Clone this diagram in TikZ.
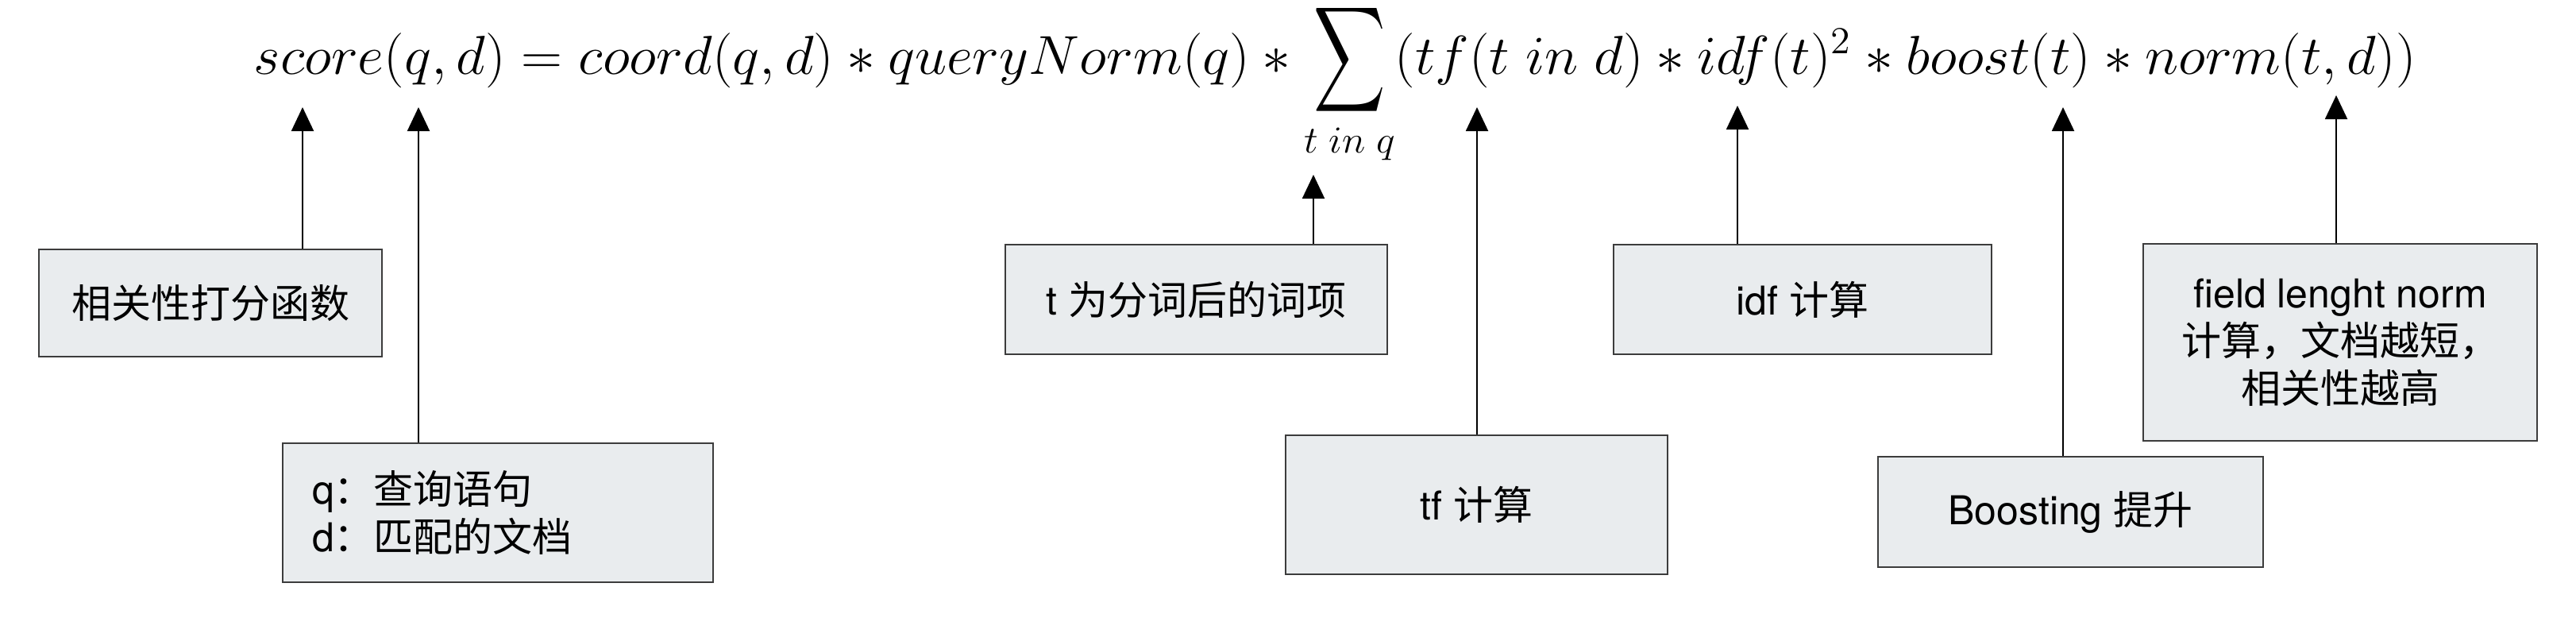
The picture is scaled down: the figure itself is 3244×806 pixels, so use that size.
\documentclass[tikz,border=0pt]{standalone}
\usepackage{exscale}
\usepackage[no-math]{fontspec}
\setmainfont{TeX Gyre Heros}
\newfontfamily\cjk{Noto Sans CJK SC}
\usetikzlibrary{arrows.meta}
\definecolor{notefill}{HTML}{E9ECEE}
\definecolor{noteline}{HTML}{3C3C3C}
\newcommand{\bigsum}{\mathop{\vcenter{\hbox{\scalebox{0.87}[1.34]{$\displaystyle\sum$}}}}\limits}
\tikzset{
  notebox/.style={draw=noteline, line width=0.7pt, fill=notefill, inner sep=0pt,
    align=center, font=\fontsize{12.5}{15}\selectfont},
  pointer/.style={-{Triangle[length=7.5pt,width=7pt]}, line width=0.5pt},
}
\begin{document}
\begin{tikzpicture}[x=0.25pt,y=-0.25pt]
  \useasboundingbox (0,0) rectangle (3244,806);
  % the scoring formula
  \node[anchor=base west, inner sep=0pt, font=\fontsize{18}{22}\selectfont] (formula) at (319,93)
    {\resizebox{680.75pt}{\height}{$score(q,d)=coord(q,d)\ast queryNorm(q)\ast\bigsum_{t\;in\;q}(tf(t\;in\;d)\ast idf(t)^2\ast boost(t)\ast norm(t,d))$}};
  % where the pointers end
  \coordinate (pscore) at (381,135);
  \coordinate (pqd) at (527,135);
  \coordinate (pterm) at (1654,220);
  \coordinate (ptf) at (1860,135);
  \coordinate (pidf) at (2188,133);
  \coordinate (pboost) at (2598,135);
  \coordinate (pnorm) at (2942,120);
  % notes
  \draw
    (265,381.5) node[notebox, minimum width=108pt, minimum height=33.75pt] (relfn) {{\cjk 相关性打分函数}}
    (627,645.5) node[notebox, align=left, text width=117pt, inner xsep=9.25pt, minimum height=43.75pt] (qdef)
      {q{\cjk ：查询语句}\\d{\cjk ：匹配的文档}}
    (1506.5,377) node[notebox, minimum width=120.25pt, minimum height=34.5pt] (termdef) {t {\cjk 为分词后的词项}}
    (1859.5,635.5) node[notebox, minimum width=120.25pt, minimum height=43.75pt] (tfbox) {tf {\cjk 计算}}
    (2270,377) node[notebox, minimum width=119pt, minimum height=34.5pt] (idfbox) {idf {\cjk 计算}}
    (2607.5,644.5) node[notebox, minimum width=121.25pt, minimum height=34.75pt] (boostbox) {Boosting {\cjk 提升}}
    (2947,431) node[notebox, minimum width=124pt, minimum height=62pt] (normbox)
      {field lenght norm\\{\cjk 计算，文档越短，}\\{\cjk 相关性越高}};
  \begin{scope}[pointer]
    \draw (relfn.north -| pscore) to (pscore);
    \draw (qdef.north -| pqd) to (pqd);
    \draw (termdef.north -| pterm) to (pterm);
    \draw (tfbox.north -| ptf) to (ptf);
    \draw (idfbox.north -| pidf) to (pidf);
    \draw (boostbox.north -| pboost) to (pboost);
    \draw (normbox.north -| pnorm) to (pnorm);
  \end{scope}
\end{tikzpicture}
\end{document}
